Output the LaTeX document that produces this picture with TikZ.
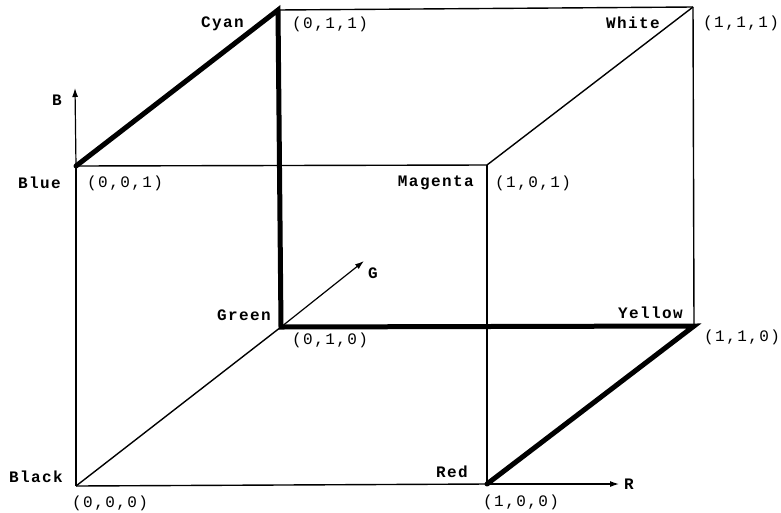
\documentclass[tikz,border=0pt]{standalone}
\usepackage{fontspec}
\setmonofont[LetterSpace=9]{Liberation Mono}
\usetikzlibrary{arrows.meta}
\begin{document}
\begin{tikzpicture}[x=1pt,y=-1pt,
  edge/.style={line width=1.4pt},
  path/.style={line width=5pt,line cap=round},
  axis/.style={line width=1.2pt,-{Latex[length=9pt,width=6pt]}},
  lbl/.style={font=\ttfamily\fontsize{16}{18}\selectfont\bfseries,inner sep=0pt},
  clbl/.style={font=\ttfamily\fontsize{16}{18}\selectfont,inner sep=0pt}]
\useasboundingbox (0,0) rectangle (781,512);
\coordinate (K) at (76,486);
\coordinate (R) at (487,484);
\coordinate (B) at (76,166);
\coordinate (M) at (487,165);
\coordinate (G) at (281,327);
\coordinate (Y) at (694,326);
\coordinate (C) at (278,10);
\coordinate (W) at (693,7);
\coordinate (Bt) at (75,88);
\coordinate (Gt) at (364,261);
\coordinate (Rt) at (619,484);
% thin edges
\draw[edge] (K) -- (R);
\draw[edge] (K) -- (B);
\draw[edge] (K) -- (G);
\draw[edge] (B) -- (M);
\draw[edge] (M) -- (R);
\draw[edge] (M) -- (W);
\draw[edge] (C) -- (W);
\draw[edge] (W) -- (Y);
% axes
\draw[axis] (B) -- (Bt);
\draw[axis] (G) -- (Gt);
\draw[axis] (R) -- (Rt);
% thick path
\draw[path] (B) -- (C) -- (G) -- (Y) -- (R);
% labels
\node[lbl,anchor=east] (lB) at (62,100) {B};
\node[lbl,anchor=west] (lG) at (368,273) {G};
\node[lbl,anchor=west] (lR) at (624,484) {R};
\node[lbl,anchor=east] (nC) at (244,24) {Cyan};
\node[clbl,anchor=west] (cC) at (292,24) {(0,1,1)};
\node[lbl,anchor=east] (nW) at (660,23) {White};
\node[clbl,anchor=west] (cW) at (703,23) {(1,1,1)};
\node[lbl,anchor=east] (nB) at (61,183) {Blue};
\node[clbl,anchor=west] (cB) at (87,183) {(0,0,1)};
\node[lbl,anchor=east] (nM) at (474,183) {Magenta};
\node[clbl,anchor=west] (cM) at (495,183) {(1,0,1)};
\node[lbl,anchor=east] (nG) at (271,315) {Green};
\node[clbl,anchor=west] (cG) at (292,340) {(0,1,0)};
\node[lbl,anchor=east] (nY) at (683,313) {Yellow};
\node[clbl,anchor=west] (cY) at (704,337) {(1,1,0)};
\node[lbl,anchor=east] (nR) at (468,472) {Red};
\node[clbl,anchor=west] (cR) at (483,502) {(1,0,0)};
\node[lbl,anchor=east] (nK) at (63,477) {Black};
\node[clbl,anchor=west] (cK) at (72,503) {(0,0,0)};
\end{tikzpicture}
\end{document}
